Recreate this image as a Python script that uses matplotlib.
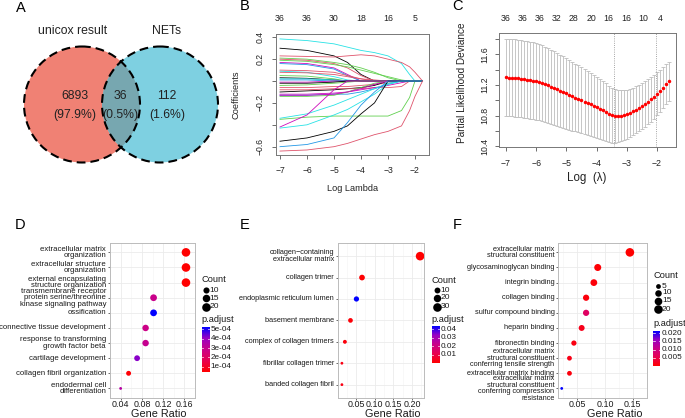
import numpy as np
import matplotlib
matplotlib.use("Agg")
import matplotlib.pyplot as plt
from matplotlib.patches import Circle
from matplotlib.colors import LinearSegmentedColormap, Normalize

plt.rcParams['font.family'] = ['Liberation Sans', 'DejaVu Sans']

# ------------------------------------------------------------------ data
venn_names = ["unicox result", "NETs"]
venn_counts = [6893, 36, 112]          # only unicox, both, only NETs

lasso_loglam = [-7.0, -6.0, -5.0, -4.5, -4.0, -3.5, -3.0, -2.5, -2.2, -2.0, -1.72]
lasso_top_at = [-7, -6, -5, -4, -3, -2]
lasso_top_df = ["36", "36", "30", "18", "16", "5"]
coef_paths = [
    [0.385, 0.37, 0.34, 0.31, 0.28, 0.26, 0.23, 0.16, 0.06, 0.0, 0.0],
    [0.30, 0.28, 0.23, 0.17, 0.06, 0.0, 0.0, 0.0, 0.0, 0.0, 0.0],
    [0.23, 0.225, 0.22, 0.23, 0.24, 0.23, 0.20, 0.17, 0.13, 0.08, 0.0],
    [0.21, 0.20, 0.17, 0.15, 0.12, 0.08, 0.03, 0.0, 0.0, 0.0, 0.0],
    [0.20, 0.19, 0.16, 0.12, 0.05, 0.0, 0.0, 0.0, 0.0, 0.0, 0.0],
    [0.19, 0.18, 0.15, 0.13, 0.10, 0.07, 0.04, 0.01, 0.0, 0.0, 0.0],
    [0.17, 0.16, 0.12, 0.06, 0.0, 0.0, 0.0, 0.0, 0.0, 0.0, 0.0],
    [0.16, 0.15, 0.11, 0.05, 0.0, 0.0, 0.0, 0.0, 0.0, 0.0, 0.0],
    [0.10, 0.095, 0.08, 0.05, 0.02, 0.0, 0.0, 0.0, 0.0, 0.0, 0.0],
    [0.09, 0.08, 0.04, 0.01, 0.0, 0.0, 0.0, 0.0, 0.0, 0.0, 0.0],
    [0.08, 0.075, 0.06, 0.04, 0.02, 0.01, 0.0, 0.0, 0.0, 0.0, 0.0],
    [0.05, 0.045, 0.02, 0.0, 0.0, 0.0, 0.0, 0.0, 0.0, 0.0, 0.0],
    [0.03, 0.025, 0.01, 0.0, 0.0, 0.0, 0.0, 0.0, 0.0, 0.0, 0.0],
    [0.02, 0.02, 0.01, 0.0, 0.0, 0.0, 0.0, 0.0, 0.0, 0.0, 0.0],
    [0.01, 0.01, 0.0, 0.0, 0.0, 0.0, 0.0, 0.0, 0.0, 0.0, 0.0],
    [-0.01, -0.01, 0.0, 0.0, 0.0, 0.0, 0.0, 0.0, 0.0, 0.0, 0.0],
    [-0.02, -0.02, -0.01, 0.0, 0.0, 0.0, 0.0, 0.0, 0.0, 0.0, 0.0],
    [-0.04, -0.035, -0.02, -0.01, 0.0, 0.0, 0.0, 0.0, 0.0, 0.0, 0.0],
    [-0.06, -0.06, -0.05, -0.05, -0.04, -0.03, -0.02, 0.0, 0.0, 0.0, 0.0],
    [-0.10, -0.09, -0.08, -0.07, -0.06, -0.04, 0.0, 0.0, 0.0, 0.0, 0.0],
    [-0.08, -0.08, -0.07, -0.07, -0.07, -0.06, -0.06, -0.05, 0.0, 0.0, 0.0],
    [-0.12, -0.12, -0.11, -0.10, -0.08, -0.06, -0.04, -0.015, 0.0, 0.0, 0.0],
    [-0.13, -0.13, -0.12, -0.12, -0.10, -0.07, -0.03, 0.0, 0.0, 0.0, 0.0],
    [-0.14, -0.14, -0.13, -0.10, -0.06, -0.02, 0.0, 0.0, 0.0, 0.0, 0.0],
    [-0.13, -0.13, -0.12, -0.10, -0.07, -0.03, 0.0, 0.0, 0.0, 0.0, 0.0],
    [-0.34, -0.30, -0.22, -0.17, -0.12, -0.07, -0.02, 0.0, 0.0, 0.0, 0.0],
    [-0.35, -0.33, -0.32, -0.32, -0.32, -0.32, -0.32, -0.27, -0.15, 0.0, 0.0],
    [-0.42, -0.31, -0.08, 0.0, 0.0, 0.0, 0.0, 0.0, 0.0, 0.0, 0.0],
    [-0.43, -0.40, -0.31, -0.26, -0.19, -0.12, -0.03, 0.0, 0.0, 0.0, 0.0],
    [-0.55, -0.52, -0.46, -0.41, -0.30, -0.20, 0.0, 0.0, 0.0, 0.0, 0.0],
    [-0.60, -0.58, -0.52, -0.38, -0.22, -0.10, 0.0, 0.0, 0.0, 0.0, 0.0],
    [-0.64, -0.63, -0.60, -0.57, -0.53, -0.49, -0.46, -0.41, -0.27, -0.14, 0.0],
]
coef_col_keys = ["c", "k", "p", "g", "p", "g", "m", "b", "p", "c", "p", "g", "k", "c", "b", "m",
                 "k", "g", "p", "k", "p", "m", "b", "g", "m", "c", "g", "m", "c", "k", "b", "p"]

cv_loglam = [-7.0, -6.9, -6.8, -6.7, -6.6, -6.5, -6.4, -6.3, -6.2, -6.1, -6.0,
             -5.9, -5.8, -5.7, -5.6, -5.5, -5.4, -5.3, -5.2, -5.1, -5.0,
             -4.9, -4.8, -4.7, -4.6, -4.5, -4.4, -4.3, -4.2, -4.1, -4.0,
             -3.9, -3.8, -3.7, -3.6, -3.5, -3.4, -3.3, -3.2, -3.1, -3.0,
             -2.9, -2.8, -2.7, -2.6, -2.5, -2.4, -2.3, -2.2, -2.1, -2.0,
             -1.9, -1.8, -1.7, -1.6]
cv_dev = [11.300, 11.297, 11.294, 11.290, 11.286, 11.281, 11.276, 11.270, 11.264, 11.257, 11.250,
          11.238, 11.225, 11.211, 11.196, 11.180, 11.163, 11.145, 11.127, 11.109, 11.090,
          11.072, 11.054, 11.036, 11.018, 11.000, 10.982, 10.964, 10.946, 10.928, 10.910,
          10.892, 10.868, 10.846, 10.826, 10.808, 10.797, 10.796, 10.800, 10.808, 10.820,
          10.836, 10.855, 10.876, 10.898, 10.922, 10.950, 10.980, 11.012, 11.047, 11.085,
          11.125, 11.165, 11.207, 11.250]
cv_se = [0.505, 0.505, 0.504, 0.504, 0.503, 0.503, 0.502, 0.502, 0.501, 0.501, 0.500,
         0.497, 0.494, 0.490, 0.486, 0.482, 0.478, 0.473, 0.469, 0.464, 0.460,
         0.454, 0.448, 0.442, 0.436, 0.430, 0.424, 0.418, 0.412, 0.406, 0.400,
         0.392, 0.383, 0.374, 0.366, 0.358, 0.350, 0.342, 0.335, 0.327, 0.320,
         0.316, 0.312, 0.308, 0.304, 0.300, 0.296, 0.292, 0.288, 0.284, 0.280,
         0.274, 0.268, 0.261, 0.255]
cv_lambda_min = -3.42
cv_lambda_1se = -2.02
cv_top_at = [-7.0, -6.45, -5.9, -5.32, -4.75, -4.18, -3.6, -3.02, -2.45, -1.88]
cv_top_df = ["36", "36", "36", "32", "28", "20", "16", "16", "10", "4"]

d_terms = ["extracellular matrix\norganization", "extracellular structure\norganization",
           "external encapsulating\nstructure organization",
           "transmembrane receptor\nprotein serine/threonine\nkinase signaling pathway",
           "ossification", "connective tissue development",
           "response to transforming\ngrowth factor beta", "cartilage development",
           "collagen fibril organization", "endodermal cell\ndifferentiation"]
d_ratio = [0.163, 0.163, 0.163, 0.102, 0.102, 0.087, 0.087, 0.071, 0.055, 0.040]
d_count = [20, 20, 20, 12, 12, 11, 11, 9, 7, 5]
d_padj = [4.7e-5, 4.8e-5, 5.0e-5, 2.9e-4, 5.28e-4, 2.8e-4, 3.0e-4, 4.2e-4, 5.5e-5, 3.4e-4]
d_xticks = [0.04, 0.08, 0.12, 0.16]
d_size_keys = [10, 15, 20]
d_cbar_ticks = [5e-4, 4e-4, 3e-4, 2e-4, 1e-4]

e_terms = ["collagen\u2212containing\nextracellular matrix", "collagen trimer",
           "endoplasmic reticulum lumen", "basement membrane", "complex of collagen trimers",
           "fibrillar collagen trimer", "banded collagen fibril"]
e_ratio = [0.222, 0.066, 0.051, 0.035, 0.020, 0.012, 0.012]
e_count = [30, 9, 7, 5, 3, 2, 2]
e_padj = [0.0004, 0.0008, 0.0427, 0.0015, 0.0020, 0.0030, 0.0030]
e_xticks = [0.05, 0.10, 0.15, 0.20]
e_size_keys = [10, 20, 30]
e_cbar_ticks = [0.04, 0.03, 0.02, 0.01]

f_terms = ["extracellular matrix\nstructural constituent", "glycosaminoglycan binding",
           "integrin binding", "collagen binding", "sulfur compound binding", "heparin binding",
           "fibronectin binding",
           "extracellular matrix\nstructural constituent\nconferring tensile strength",
           "extracellular matrix binding",
           "extracellular matrix\nstructural constituent\nconferring compression\nresistance"]
f_ratio = [0.145, 0.087, 0.080, 0.066, 0.066, 0.058, 0.044, 0.036, 0.036, 0.022]
f_count = [20, 12, 11, 9, 9, 8, 6, 5, 5, 3]
f_padj = [2e-5, 4e-4, 6e-4, 9e-4, 0.0068, 0.0018, 0.0012, 0.0015, 0.0009, 0.0209]
f_xticks = [0.05, 0.10, 0.15]
f_size_keys = [5, 10, 15, 20]
f_cbar_ticks = [0.020, 0.015, 0.010, 0.005]

# ------------------------------------------------------------------ figure
W, H = 685, 418
fig = plt.figure(figsize=(W / 100, H / 100), dpi=100)
fig.patch.set_facecolor("white")


def px_axes(x0, y0, x1, y1):
    return fig.add_axes([x0 / W, 1 - y1 / H, (x1 - x0) / W, (y1 - y0) / H])


ov = px_axes(0, 0, W, H)
ov.set_zorder(10)
ov.patch.set_visible(False)
ov.axis("off")

# ------------------------------------------------------------------ A : Venn
cL = Circle((82, 104.5), 58, fc="#F08174", ec="none")
cR = Circle((160, 104.5), 58, fc="#7ED0E1", ec="none")
ov.add_patch(cL)
ov.add_patch(cR)
cI = Circle((160, 104.5), 58, fc="#77A7B0", ec="none")
ov.add_patch(cI)
cI.set_clip_path(cL)
for cen in [(82, 104.5), (160, 104.5)]:
    ov.add_patch(Circle(cen, 58, fill=False, ec="black", lw=1.5, ls=(0, (4.2, 2.4))))
total = sum(venn_counts)
ov.text(72.5, 31.5, venn_names[0], fontsize=8.8, ha="center", va="center", color="#222222")
ov.text(166.7, 31.5, venn_names[1], fontsize=8.8, ha="center", va="center", color="#222222")
for cx, cnt in zip([74.5, 120.5, 167], venn_counts):
    ov.text(cx, 96, f"{cnt}", fontsize=8.8, ha="center", va="center", color="#222222")
    ov.text(cx, 115.3, f"({cnt / total * 100:.1f}%)", fontsize=8.8, ha="center", va="center",
            color="#222222")

# ------------------------------------------------------------------ B : lasso paths
pal = {"k": "black", "p": "#DF536B", "g": "#61D04F", "b": "#2297E6", "c": "#28E2E5", "m": "#CD0BBC"}
axB = px_axes(276, 34, 429, 155)
for vals, ck in zip(coef_paths, coef_col_keys):
    axB.plot(lasso_loglam, vals, color=pal[ck], lw=0.6)
axB.set_xlim(-7.148, -1.481)
axB.set_ylim(-0.676, 0.43)
axB.set_xticks([-7, -6, -5, -4, -3, -2])
axB.set_yticks([-0.6, -0.4, -0.2, 0.0, 0.2, 0.4])
axB.set_yticklabels(["\u22120.6", "", "\u22120.2", "", "0.2", "0.4"], rotation=90, va="center")
axB.tick_params(axis="both", direction="out", length=3, width=0.6, color="#555555",
                labelsize=6.2, labelcolor="#222222")
axB.tick_params(axis="x", pad=5)
axB.tick_params(axis="y", pad=5.5)
for s in axB.spines.values():
    s.set_color("#777777")
    s.set_linewidth(0.7)
secB = axB.secondary_xaxis("top")
secB.set_xticks(lasso_top_at)
secB.set_xticklabels(lasso_top_df)
secB.tick_params(length=0, pad=8, labelsize=6.3, labelcolor="#222222")
secB.spines["top"].set_visible(False)
ov.text(236.5, 94.5, "Coefficients", fontsize=6.7, rotation=90, ha="center", va="center",
        color="#222222")
ov.text(352.5, 188.3, "Log Lambda", fontsize=6.6, ha="center", va="center", color="#222222")

# ------------------------------------------------------------------ C : cv curve
axC = px_axes(499, 33, 676, 147)
axC.errorbar(cv_loglam, cv_dev, yerr=cv_se, fmt="none", ecolor="#BDBDBD", elinewidth=0.6,
             capsize=1.3, capthick=0.6)
axC.plot(cv_loglam, cv_dev, "o", color="red", ms=2.5, mew=0, zorder=3)
axC.axvline(cv_lambda_min, color="#888888", ls=":", lw=0.6)
axC.axvline(cv_lambda_1se, color="#888888", ls=":", lw=0.6)
axC.set_xlim(-7.232, -1.37)
axC.set_ylim(10.392, 11.877)
axC.set_xticks([-7, -6, -5, -4, -3, -2])
axC.set_yticks([10.4, 10.6, 10.8, 11.0, 11.2, 11.4, 11.6, 11.8])
axC.set_yticklabels(["10.4", "", "10.8", "", "11.2", "", "11.6", ""], rotation=90, va="center")
axC.tick_params(axis="both", direction="out", length=3, width=0.6, color="#555555",
                labelsize=6.3, labelcolor="#222222")
axC.tick_params(axis="x", pad=5.5)
axC.tick_params(axis="y", pad=4)
for s in axC.spines.values():
    s.set_color("#777777")
    s.set_linewidth(0.7)
secC = axC.secondary_xaxis("top")
secC.set_xticks(cv_top_at)
secC.set_xticklabels(cv_top_df)
secC.tick_params(length=0, pad=7.5, labelsize=6.3, labelcolor="#222222")
secC.spines["top"].set_visible(False)
ov.text(461.7, 82.5, "Partial Likelihood Deviance", fontsize=7.2, rotation=90, ha="center",
        va="center", color="#222222")
ov.text(587, 178, "Log  (\u03bb)", fontsize=8.3, ha="center", va="center", color="#222222")

# ------------------------------------------------------------------ D/E/F : dot plots
cmap = LinearSegmentedColormap.from_list(
    "rb", [(0, "#FF0000"), (0.25, "#E8004F"), (0.5, "#CA0089"), (0.75, "#9A00C3"), (1, "#0000FF")])
DMIN, DMAX = 2.8, 8.6


def dot_panel(box, terms, ratio, count, padj, xticks, xfmt, gx, leg, yfs):
    ax = px_axes(*box)
    n = len(terms)
    ypos = np.arange(1, n + 1)
    r = np.asarray(ratio, float)
    c = np.asarray(count, float)
    p = np.asarray(padj, float)
    cmin, cmax = c.min(), c.max()
    pmin, pmax = p.min(), p.max()
    norm = Normalize(pmin, pmax)

    def size_of(v):
        d = DMIN + (DMAX - DMIN) * np.sqrt((np.asarray(v, float) - cmin) / (cmax - cmin))
        return (d * 0.72) ** 2

    ax.scatter(r, ypos, s=size_of(c), c=cmap(norm(p)), linewidths=0, zorder=3)
    rng = r.max() - r.min()
    ax.set_xlim(r.min() - 0.05 * rng, r.max() + 0.05 * rng)
    ax.set_ylim(n + 0.6, 0.4)
    ax.set_xticks(xticks)
    ax.set_xticklabels([xfmt % v for v in xticks])
    minor = [(a + b) / 2 for a, b in zip(xticks[:-1], xticks[1:])]
    minor = [xticks[0] - (xticks[1] - xticks[0]) / 2] + minor + [xticks[-1] + (xticks[1] - xticks[0]) / 2]
    ax.set_xticks(minor, minor=True)
    ax.set_yticks(ypos)
    ax.set_yticklabels(terms, fontsize=yfs, linespacing=0.92)
    for t in ax.get_yticklabels():
        t.set_verticalalignment("center")
        t.set_horizontalalignment("right")
    ax.set_axisbelow(True)
    ax.grid(which="major", color="#EBEBEB", lw=0.6)
    ax.grid(which="minor", axis="x", color="#F3F3F3", lw=0.4)
    ax.tick_params(axis="both", which="major", length=1.6, width=0.5, color="#333333",
                   labelcolor="#1A1A1A")
    ax.tick_params(axis="x", which="major", labelsize=6.4, pad=0.3)
    ax.tick_params(axis="y", which="major", pad=1.2)
    ax.tick_params(which="minor", length=0)
    for s in ax.spines.values():
        s.set_color("#BBBBBB")
        s.set_linewidth(0.7)
    ov.text(gx, 408.8, "Gene Ratio", fontsize=7.8, ha="center", va="top", color="#1A1A1A")

    # legend: size
    ov.text(leg["x"], leg["count_y"], "Count", fontsize=6.7, ha="left", va="center", color="#1A1A1A")
    for kv, ky in zip(leg["keys"], leg["key_y"]):
        ov.scatter([leg["dot_x"]], [ky], s=size_of(kv), color="black", linewidths=0)
        ov.text(leg["lab_x"], ky, f"{kv}", fontsize=6.1, ha="left", va="center", color="#1A1A1A")
    # legend: colour bar
    ov.text(leg["x"], leg["p_y"], "p.adjust", fontsize=6.7, ha="left", va="center", color="#1A1A1A")
    x0, x1, y0, y1 = leg["bar"]
    grad = np.linspace(1, 0, 256).reshape(-1, 1)
    ov.imshow(grad, cmap=cmap, extent=(x0, x1, y1, y0), aspect="auto", origin="upper",
              interpolation="bilinear", zorder=2)
    for tv, tl in zip(leg["ticks"], leg["tick_labels"]):
        ty = y1 - (tv - pmin) / (pmax - pmin) * (y1 - y0)
        ov.plot([x0, x0 + 1.4], [ty, ty], color="white", lw=0.5, zorder=3)
        ov.plot([x1 - 1.4, x1], [ty, ty], color="white", lw=0.5, zorder=3)
        ov.text(x1 + 1.8, ty, tl, fontsize=5.9, ha="left", va="center", color="#1A1A1A")
    return ax


dot_panel((110, 243.3, 195, 397.5), d_terms, d_ratio, d_count, d_padj, d_xticks, "%.2f", 158.3,
          dict(x=201.7, count_y=280, keys=d_size_keys, key_y=[290, 298, 306.7], dot_x=206,
               lab_x=209.5, p_y=319.3, bar=(201.7, 209, 326.7, 371.7), ticks=d_cbar_ticks,
               tick_labels=["%.0e" % v for v in d_cbar_ticks]), 5.55)
dot_panel((338, 243.3, 424, 397.5), e_terms, e_ratio, e_count, e_padj, e_xticks, "%.2f", 392.5,
          dict(x=431.7, count_y=280.7, keys=e_size_keys, key_y=[290, 297.5, 306.7], dot_x=436.7,
               lab_x=440.5, p_y=320, bar=(431.7, 439, 326.7, 363.3), ticks=e_cbar_ticks,
               tick_labels=["%.2f" % v for v in e_cbar_ticks]), 5.35)
dot_panel((558.3, 243.3, 646.5, 397.5), f_terms, f_ratio, f_count, f_padj, f_xticks, "%.2f", 615,
          dict(x=653.3, count_y=275, keys=f_size_keys, key_y=[286, 292.7, 301, 309.3], dot_x=658.3,
               lab_x=662, p_y=323.3, bar=(653.3, 660, 331.7, 366), ticks=f_cbar_ticks,
               tick_labels=["%.3f" % v for v in f_cbar_ticks]), 5.35)

# ------------------------------------------------------------------ panel letters
for lx, ly, lt in [(20.5, 7.5, "A"), (245, 6, "B"), (457.5, 6, "C"),
                   (20, 224.7, "D"), (245, 224.7, "E"), (457.5, 224.7, "F")]:
    ov.text(lx, ly, lt, fontsize=10.5, ha="center", va="center", color="black")

ov.set_xlim(0, W)
ov.set_ylim(H, 0)
fig.savefig("out.png", dpi=100)
